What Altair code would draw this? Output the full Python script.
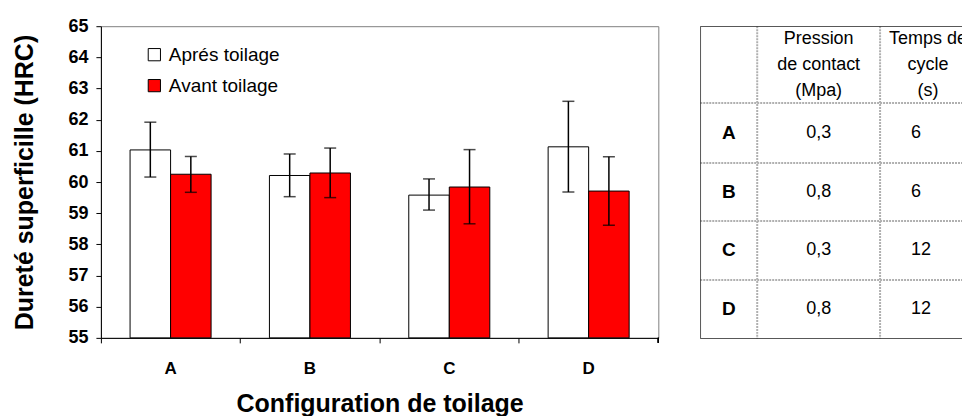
import altair as alt
import pandas as pd

FONT = "Liberation Sans"

# ---------------- data ----------------
configs = ["A", "B", "C", "D"]
series = ["Aprés toilage", "Avant toilage"]
apres_mean = [61.03, 60.21, 59.58, 61.13]
apres_low = [60.16, 59.53, 59.10, 59.68]
apres_high = [61.92, 60.90, 60.10, 62.59]
avant_mean = [60.25, 60.29, 59.84, 59.71]
avant_low = [59.67, 59.50, 58.66, 58.61]
avant_high = [60.82, 61.09, 61.04, 60.81]
y_ticks = [55, 56, 57, 58, 59, 60, 61, 62, 63, 64, 65]

table_header = ["", "Pression\nde contact\n(Mpa)", "Temps de\ncycle\n(s)"]
pression = ["0,3", "0,8", "0,3", "0,8"]
temps = ["6", "6", "12", "12"]

rows = []
for i, c in enumerate(configs):
    rows.append(dict(config=c, serie=series[0], mean=apres_mean[i], low=apres_low[i], high=apres_high[i]))
    rows.append(dict(config=c, serie=series[1], mean=avant_mean[i], low=avant_low[i], high=avant_high[i]))
df = pd.DataFrame(rows)

PW, PH = 558, 312
Y_MIN, Y_MAX = y_ticks[0], y_ticks[-1]

x_axis = alt.Axis(title="Configuration de toilage", bandPosition=0,
                  labelAngle=0, labelFont=FONT, labelFontSize=17, labelFontWeight="bold",
                  labelColor="black", labelPadding=18,
                  titleFont=FONT, titleFontSize=25, titleFontWeight="bold", titleColor="black",
                  titlePadding=15, tickColor="black", tickSize=5, domainColor="black")
y_axis = alt.Axis(title="Dureté superficille (HRC)", values=y_ticks,
                  grid=False, labelOverlap=False,
                  labelFont=FONT, labelFontSize=18, labelFontWeight="bold", labelColor="black",
                  labelPadding=8, tickColor="black", tickSize=5, domainColor="black",
                  titleFont=FONT, titleFontSize=25, titleFontWeight="bold", titleColor="black",
                  titlePadding=30)
x_scale = alt.Scale(paddingInner=0, paddingOuter=0)
y_scale = alt.Scale(domain=[Y_MIN, Y_MAX], zero=False, nice=False)
xo = alt.XOffset("serie:N", sort=series, scale=alt.Scale(paddingInner=0, paddingOuter=0.72))

def xenc():
    return alt.X("config:N", sort=configs, scale=x_scale, axis=x_axis)

def yenc(field):
    return alt.Y(field, scale=y_scale, axis=y_axis)

bars = alt.Chart(df).mark_bar(stroke="black", strokeWidth=1).encode(
    x=xenc(),
    xOffset=xo,
    y=yenc("mean:Q"),
    y2=alt.datum(Y_MIN),
    color=alt.Color("serie:N", sort=series,
                    scale=alt.Scale(domain=series, range=["white", "#ff0000"]),
                    legend=alt.Legend(title=None, orient="none", legendX=44, legendY=19,
                                      symbolType="square", symbolSize=150, symbolStrokeColor="black",
                                      symbolStrokeWidth=1, labelFont=FONT, labelFontSize=19,
                                      labelColor="black", rowPadding=11, labelOffset=5, padding=0)),
)

err = alt.Chart(df).mark_rule(color="black", strokeWidth=1.5).encode(
    x=xenc(), xOffset=xo, y=yenc("low:Q"), y2="high:Q")
cap_lo = alt.Chart(df).mark_tick(color="black", thickness=1.5, size=12, orient="horizontal").encode(
    x=xenc(), xOffset=xo, y=yenc("low:Q"))
cap_hi = alt.Chart(df).mark_tick(color="black", thickness=1.5, size=12, orient="horizontal").encode(
    x=xenc(), xOffset=xo, y=yenc("high:Q"))
end_tick = alt.Chart(df).mark_rule(color="black").encode(
    x=alt.value(PW), y=alt.value(PH), y2=alt.value(PH + 5))

left = alt.layer(bars, err, cap_lo, cap_hi, end_tick).properties(
    width=PW, height=PH, view=alt.ViewBackground(stroke="#808080", strokeWidth=1))

# ---------------- table ----------------
TW, TH = 262, 313
LINE_H = 26
col_edges = [0, 57, 180, 276]
row_edges = [0, 77, 137, 195, 254, 313]
col_centers = [(col_edges[i] + col_edges[i + 1]) / 2 for i in range(3)]
row_centers = [(row_edges[i] + row_edges[i + 1]) / 2 for i in range(5)]
col3_left = col_edges[2] + 31

xs = alt.Scale(domain=[0, TW], nice=False, zero=False)
ys = alt.Scale(domain=[0, TH], nice=False, zero=False, reverse=True)

hdr = pd.DataFrame([dict(x=col_centers[i], y=row_centers[0] - LINE_H, t=table_header[i]) for i in range(1, 3)])
lab = pd.DataFrame([dict(x=col_centers[0], y=row_centers[i + 1], t=configs[i]) for i in range(4)])
v1 = pd.DataFrame([dict(x=col_centers[1], y=row_centers[i + 1], t=pression[i]) for i in range(4)])
v2 = pd.DataFrame([dict(x=col3_left, y=row_centers[i + 1], t=temps[i]) for i in range(4)])

def txt(d, size=18, **kw):
    return alt.Chart(d).mark_text(font=FONT, fontSize=size, color="black", baseline="middle",
                                  lineBreak="\n", lineHeight=LINE_H, clip=True, **kw).encode(
        x=alt.X("x:Q", scale=xs, axis=None), y=alt.Y("y:Q", scale=ys, axis=None), text="t:N")

hlines = pd.DataFrame(dict(x=[0] * 4, x2=[TW] * 4, y=row_edges[1:-1], y2=row_edges[1:-1]))
vlines = pd.DataFrame(dict(x=col_edges[1:3], x2=col_edges[1:3], y=[0, 0], y2=[TH, TH]))
outer = pd.DataFrame(dict(x=[0, 0, 0], x2=[TW, TW, 0], y=[0, TH, 0], y2=[0, TH, TH]))

def lines(d, **kw):
    return alt.Chart(d).mark_rule(clip=True, **kw).encode(
        x=alt.X("x:Q", scale=xs, axis=None), x2="x2:Q",
        y=alt.Y("y:Q", scale=ys, axis=None), y2="y2:Q")

table = alt.layer(
    lines(hlines, color="#b0b0b0", strokeWidth=2, strokeDash=[2, 1]),
    lines(vlines, color="#b0b0b0", strokeWidth=2, strokeDash=[2, 1]),
    lines(outer, color="#202020", strokeWidth=1.5),
    txt(hdr, align="center"),
    txt(lab, size=19, align="center", fontWeight="bold"),
    txt(v1, align="center"),
    txt(v2, align="left"),
).properties(width=TW, height=TH, view=alt.ViewBackground(stroke="transparent"))

chart = alt.hconcat(left, table, spacing=42, bounds="flush").properties(
    padding={"left": 4, "top": 8, "right": 0, "bottom": 0}
).configure_view(stroke="#808080")

chart.save("out.html", embed_options={"renderer": "svg", "actions": False})
